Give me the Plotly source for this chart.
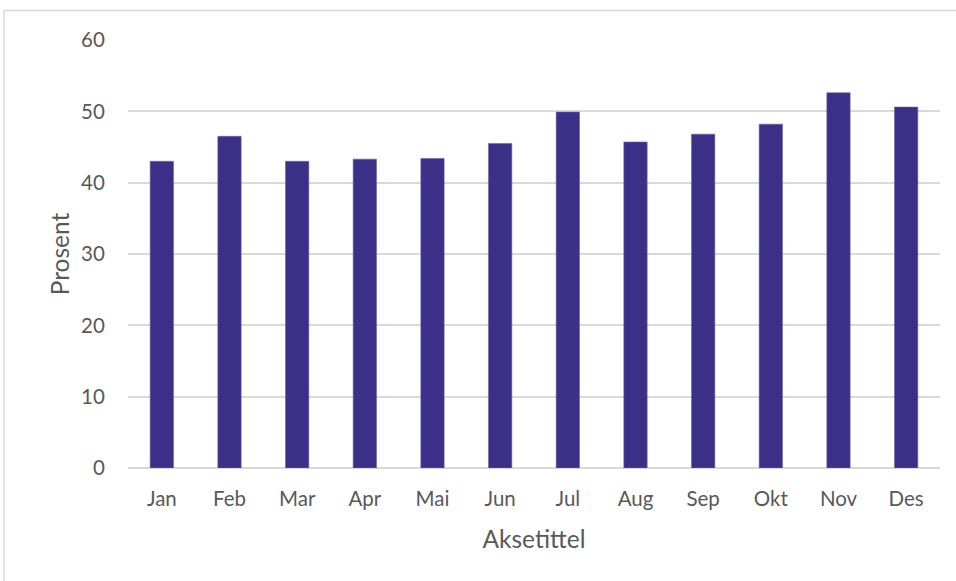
import plotly.graph_objects as go

months = ["Jan", "Feb", "Mar", "Apr", "Mai", "Jun", "Jul", "Aug", "Sep", "Okt", "Nov", "Des"]
prosent = [43.0, 46.5, 43.0, 43.3, 43.4, 45.5, 49.9, 45.7, 46.8, 48.2, 52.6, 50.6]
y_ticks = [0, 10, 20, 30, 40, 50, 60]

FONT = "Lato"
GRAY = "#595959"
GRID = "#d9d9d9"

fig = go.Figure(
    go.Bar(
        x=months,
        y=prosent,
        marker=dict(color="#3b2f87", line=dict(color="#6d63a8", width=0.6)),
        hoverinfo="x+y",
    )
)

L, R, T, B = 128, 16, 40, 113
W, H = 956, 581
pw, ph = W - L - R, H - T - B

fig.update_layout(
    width=W,
    height=H,
    margin=dict(l=L, r=R, t=T, b=B, pad=0),
    paper_bgcolor="white",
    plot_bgcolor="white",
    bargap=0.655,
    showlegend=False,
    font=dict(family=FONT, color=GRAY, size=20),
    xaxis=dict(
        title=dict(text="Aksetittel", font=dict(size=24.5, color=GRAY), standoff=22),
        tickfont=dict(size=20.5, color=GRAY),
        showgrid=False,
        showline=False,
        ticks="outside",
        ticklen=12,
        tickcolor="rgba(0,0,0,0)",
    ),
    yaxis=dict(
        title=dict(text="Prosent", font=dict(size=24.5, color=GRAY), standoff=4),
        range=[0, 60],
        tickvals=y_ticks,
        tickfont=dict(size=20.5, color=GRAY),
        showgrid=True,
        gridcolor=GRID,
        gridwidth=1.5,
        zeroline=True,
        zerolinecolor=GRID,
        zerolinewidth=1.5,
        showline=False,
        ticks="outside",
        ticklen=18,
        tickcolor="rgba(0,0,0,0)",
    ),
    shapes=[
        dict(
            type="rect",
            xref="paper",
            yref="paper",
            x0=(4 - L) / pw,
            x1=(W + 20 - L) / pw,
            y0=-(B + 20) / ph,
            y1=1 + (T - 10.5) / ph,
            line=dict(color=GRID, width=1.5),
            fillcolor="rgba(0,0,0,0)",
            layer="below",
        )
    ],
)

fig.write_html(
    "out.html",
    config={"displayModeBar": False},
    post_script="document.body.style.margin='0';document.body.style.overflow='hidden';",
)
